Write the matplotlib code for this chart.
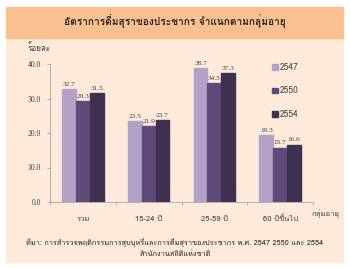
import matplotlib
matplotlib.use("Agg")
import matplotlib.pyplot as plt
from matplotlib import font_manager
from matplotlib.patches import Rectangle, Patch
from matplotlib.ft2font import FT2Font
import numpy as np

categories = ["รวม", "15-24 ปี", "25-59 ปี", "60 ปีขึ้นไป"]
years = ["2547", "2550", "2554"]
rate_2547 = [32.7, 23.5, 38.7, 19.3]
rate_2550 = [29.3, 21.9, 34.5, 15.7]
rate_2554 = [31.5, 23.7, 37.3, 16.6]
yticks = [0, 10, 20, 30, 40]

title = "อัตราการดื่มสุราของประชากร จำแนกตามกลุ่มอายุ"
source1 = "ที่มา: การสำรวจพฤติกรรมการสูบบุหรี่และการดื่มสุราของประชากร พ.ศ. 2547 2550 และ 2554"
source2 = "สำนักงานสถิติแห่งชาติ"


# find an installed font that has Thai glyphs
def thai_font():
    for f in font_manager.fontManager.ttflist:
        try:
            ft = FT2Font(f.fname)
            if ft.get_char_index(ord("ก")) and ft.get_char_index(ord("า")):
                return f.name
        except Exception:
            pass
    return None


tf = thai_font()
fams = [tf, "DejaVu Sans"] if tf else ["DejaVu Sans"]
plt.rcParams["font.family"] = fams

colors = ["#B3A2C7", "#604A7B", "#3F3151"]
series = [rate_2547, rate_2550, rate_2554]

fig = plt.figure(figsize=(3.5, 2.68), dpi=100)
fig.patch.set_facecolor("white")
W, H = 350, 268

def fy(y):
    return 1 - y / H

# panel background
fig.patches.append(Rectangle((6 / W, fy(262)), 337 / W, (262 - 38) / H,
                             transform=fig.transFigure, color="#FDEADA", zorder=-2))
fig.patches.append(Rectangle((6 / W, fy(38)), 337 / W, 31 / H,
                             transform=fig.transFigure, color="#FAC090", zorder=-2))

fig.text(175 / W, fy(22), title, ha="center", va="center", fontsize=7.3,
         fontweight="bold", color="#262626")

ax = fig.add_axes([50 / W, fy(202), 263 / W, (202 - 64) / H])
ax.set_facecolor("none")

x = np.arange(len(categories))
bw = 0.21
for i, (vals, c, yr) in enumerate(zip(series, colors, years)):
    pos = x + (i - 1) * bw
    ax.bar(pos, vals, bw, color=c, edgecolor=c, label=yr, zorder=2)
    for p, v in zip(pos, vals):
        ax.text(p, v + 0.7, f"{v:.1f}", ha="center", va="bottom", fontsize=5.2,
                color="#404040", family="Liberation Serif")

ax.set_xlim(-0.5, len(categories) - 0.5)
ax.set_ylim(0, 40)
ax.set_yticks(yticks)
ax.set_yticklabels([f"{t:.1f}" for t in yticks], fontsize=5.5, color="#404040",
                   family="Liberation Serif")
ax.set_xticks(np.arange(len(categories) + 1) - 0.5)
ax.set_xticklabels([])
ax.set_xticks(x, minor=True)
ax.set_xticklabels(categories, minor=True, fontsize=5.5, color="#404040")
ax.tick_params(axis="x", which="minor", length=0, pad=10)
ax.tick_params(axis="both", which="major", length=2.5, color="#A6A6A6", width=0.6)
ax.tick_params(axis="y", pad=4)
for s in ["top", "right"]:
    ax.spines[s].set_visible(False)
for s in ["left", "bottom"]:
    ax.spines[s].set_color("#A6A6A6")
    ax.spines[s].set_linewidth(0.6)

fig.text(326 / W, fy(213), "กลุ่มอายุ", ha="center", va="center", fontsize=5.5,
         color="#404040")
fig.text(39 / W, fy(48), "ร้อยละ", ha="center", va="center", fontsize=5.8,
         color="#404040")

handles = [Patch(facecolor=c, edgecolor=c) for c in colors]
ax.legend(handles, years, loc="upper left", bbox_to_anchor=(0.815, 1.06),
          frameon=False, fontsize=6, handlelength=0.7, handleheight=0.7,
          handletextpad=0.3, labelspacing=1.7, labelcolor="#404040")

fig.text(175 / W, fy(242), source1, ha="center", va="center", fontsize=5.3,
         color="#262626")
fig.text(175 / W, fy(254), source2, ha="center", va="center", fontsize=5.3,
         color="#262626")

fig.savefig("out.png", dpi=100)
